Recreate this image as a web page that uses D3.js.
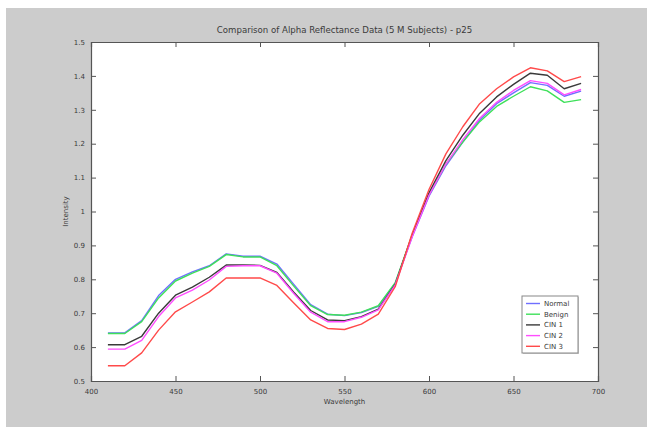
<!DOCTYPE html>
<html>
<head>
<meta charset="utf-8">
<script src="https://cdn.jsdelivr.net/npm/d3@7"></script>
<style>
  html, body { margin: 0; padding: 0; background: #ffffff; }
  svg { display: block; font-family: "DejaVu Sans", sans-serif; }
</style>
</head>
<body>
<svg id="chart" width="647" height="427"></svg>
<script>
// Wavelengths sampled every 10 nm
const wavelengths = [410, 420, 430, 440, 450, 460, 470, 480, 490, 500,
                     510, 520, 530, 540, 550, 560, 570, 580, 590, 600,
                     610, 620, 630, 640, 650, 660, 670, 680, 690];

const normal = [0.642, 0.642, 0.678, 0.752, 0.800, 0.822, 0.840, 0.875, 0.868, 0.868,
                0.845, 0.785, 0.725, 0.697, 0.693, 0.702, 0.720, 0.788, 0.925, 1.045,
                1.135, 1.205, 1.270, 1.318, 1.350, 1.380, 1.372, 1.340, 1.355];
const benign = [0.640, 0.640, 0.675, 0.745, 0.795, 0.818, 0.838, 0.873, 0.866, 0.866,
                0.840, 0.780, 0.722, 0.696, 0.694, 0.703, 0.722, 0.790, 0.930, 1.050,
                1.140, 1.205, 1.265, 1.310, 1.340, 1.368, 1.356, 1.322, 1.330];
const cin1 =   [0.607, 0.607, 0.632, 0.700, 0.753, 0.777, 0.806, 0.842, 0.842, 0.841,
                0.820, 0.762, 0.708, 0.680, 0.678, 0.690, 0.712, 0.785, 0.930, 1.055,
                1.150, 1.225, 1.290, 1.338, 1.375, 1.408, 1.402, 1.362, 1.378];
const cin2 =   [0.594, 0.594, 0.620, 0.690, 0.745, 0.768, 0.798, 0.838, 0.840, 0.840,
                0.818, 0.758, 0.703, 0.675, 0.675, 0.688, 0.710, 0.783, 0.925, 1.048,
                1.140, 1.212, 1.275, 1.322, 1.357, 1.386, 1.378, 1.344, 1.360];
const cin3 =   [0.545, 0.545, 0.583, 0.650, 0.704, 0.733, 0.763, 0.804, 0.804, 0.804,
                0.782, 0.730, 0.680, 0.655, 0.652, 0.668, 0.697, 0.778, 0.935, 1.065,
                1.170, 1.250, 1.318, 1.362, 1.397, 1.424, 1.415, 1.383, 1.398];

const seriesNames = ["Normal", "Benign", "CIN 1", "CIN 2", "CIN 3"];
const seriesColors = ["#6f6fff", "#3ee05a", "#3a3a3a", "#ff4dff", "#ff4a4a"];
const seriesValues = [normal, benign, cin1, cin2, cin3];

const xTicks = [400, 450, 500, 550, 600, 650, 700];
const yTicks = [0.5, 0.6, 0.7, 0.8, 0.9, 1.0, 1.1, 1.2, 1.3, 1.4, 1.5];

const titleText = "Comparison of Alpha Reflectance Data (5 M Subjects) - p25";
const xLabel = "Wavelength";
const yLabel = "Intensity";

const svg = d3.select("#chart");
const W = 647, H = 427;

// figure background
svg.append("rect").attr("x", 6).attr("y", 8).attr("width", W - 6).attr("height", H - 8)
  .attr("fill", "#cccccc");

const plot = { left: 91, right: 598, top: 42, bottom: 381 };

const x = d3.scaleLinear().domain([400, 700]).range([plot.left, plot.right]);
const y = d3.scaleLinear().domain([0.5, 1.5]).range([plot.bottom, plot.top]);

svg.append("rect")
  .attr("x", plot.left).attr("y", plot.top)
  .attr("width", plot.right - plot.left).attr("height", plot.bottom - plot.top)
  .attr("fill", "#ffffff");

const fmt = v => String(+v.toFixed(1));
const axisColor = "#555555";
const textColor = "#3a3a3a";

// axes with inward ticks on all four sides
const gx = svg.append("g").attr("transform", `translate(0,${plot.bottom})`)
  .call(d3.axisBottom(x).tickValues(xTicks).tickSize(-5).tickPadding(8).tickFormat(d3.format("d")));
const gxTop = svg.append("g").attr("transform", `translate(0,${plot.top})`)
  .call(d3.axisTop(x).tickValues(xTicks).tickSize(-5).tickFormat(""));
const gy = svg.append("g").attr("transform", `translate(${plot.left},0)`)
  .call(d3.axisLeft(y).tickValues(yTicks).tickSize(-5).tickPadding(6).tickFormat(fmt));
const gyRight = svg.append("g").attr("transform", `translate(${plot.right},0)`)
  .call(d3.axisRight(y).tickValues(yTicks).tickSize(-5).tickFormat(""));

[gx, gxTop, gy, gyRight].forEach(g => {
  g.select(".domain").attr("stroke", axisColor).attr("stroke-width", 1.2);
  g.selectAll(".tick line").attr("stroke", axisColor);
  g.selectAll(".tick text").attr("fill", textColor)
    .style("font-size", "7px").style("font-family", "DejaVu Sans, sans-serif");
});

// series lines
const line = d3.line()
  .x((d, i) => x(wavelengths[i]))
  .y(d => y(d));

seriesValues.forEach((vals, k) => {
  svg.append("path")
    .datum(vals)
    .attr("fill", "none")
    .attr("stroke", seriesColors[k])
    .attr("stroke-width", 1.4)
    .attr("stroke-linejoin", "round")
    .attr("d", line);
});

// title and axis labels
svg.append("text").attr("x", (plot.left + plot.right) / 2).attr("y", 33)
  .attr("text-anchor", "middle").attr("fill", textColor)
  .style("font-size", "8.6px").text(titleText);
svg.append("text").attr("x", (plot.left + plot.right) / 2).attr("y", 404)
  .attr("text-anchor", "middle").attr("fill", textColor)
  .style("font-size", "7px").text(xLabel);
svg.append("text")
  .attr("transform", `translate(68,${(plot.top + plot.bottom) / 2}) rotate(-90)`)
  .attr("text-anchor", "middle").attr("fill", textColor)
  .style("font-size", "7px").text(yLabel);

// legend
const legend = svg.append("g").attr("transform", "translate(522,296)");
legend.append("rect").attr("x", 1).attr("y", 1).attr("width", 56).attr("height", 57)
  .attr("fill", "#999999").attr("opacity", 0.5);
legend.append("rect").attr("width", 56).attr("height", 57)
  .attr("fill", "#ffffff").attr("stroke", "#888888").attr("stroke-width", 1);
seriesNames.forEach((name, k) => {
  const ly = 7.5 + k * 10.7;
  legend.append("line").attr("x1", 4).attr("x2", 18).attr("y1", ly).attr("y2", ly)
    .attr("stroke", seriesColors[k]).attr("stroke-width", 1.4);
  legend.append("text").attr("x", 22).attr("y", ly + 2.5)
    .attr("fill", textColor).style("font-size", "7px").text(name);
});
</script>
</body>
</html>
